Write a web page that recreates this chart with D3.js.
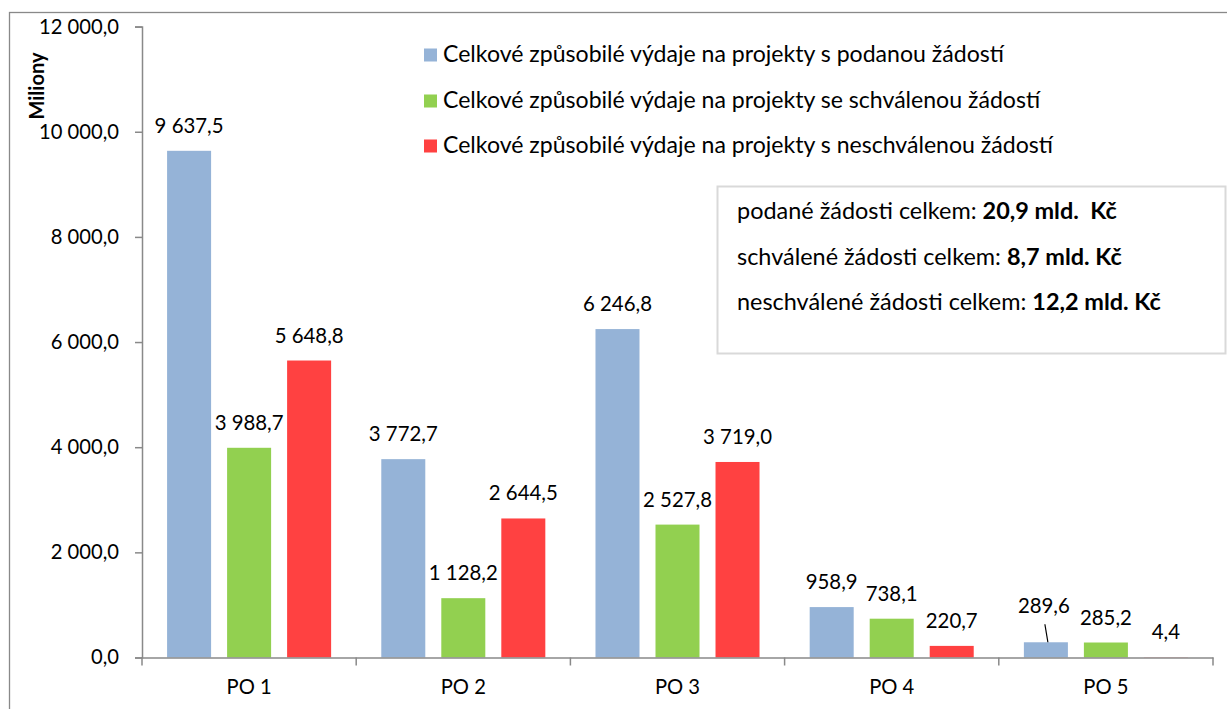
<!DOCTYPE html>
<html><head><meta charset="utf-8">
<script src="https://cdn.jsdelivr.net/npm/d3@7/dist/d3.min.js"></script>
<style>
html,body{margin:0;padding:0;background:#fff;}
svg{display:block;}
text{font-family:Lato,"Open Sans",sans-serif;fill:#000;}
</style></head>
<body>
<svg id="chart" width="1227" height="709"></svg>
<script>
// ---- data ----
const categories = ["PO 1", "PO 2", "PO 3", "PO 4", "PO 5"];
const seriesNames = [
  "Celkové způsobilé výdaje na projekty s podanou žádostí",
  "Celkové způsobilé výdaje na projekty se schválenou žádostí",
  "Celkové způsobilé výdaje na projekty s neschválenou žádostí"
];
const podane = [9637.5, 3772.7, 6246.8, 958.9, 289.6];
const schvalene = [3988.7, 1128.2, 2527.8, 738.1, 285.2];
const neschvalene = [5648.8, 2644.5, 3719.0, 220.7, 4.4];
const yTicks = [0, 2000, 4000, 6000, 8000, 10000, 12000];
const yAxisTitle = "Miliony";
const summaryLines = [
  ["podané žádosti celkem: ", "20,9 mld.\u00a0 Kč"],
  ["schválené žádosti celkem: ", "8,7 mld. Kč"],
  ["neschválené žádosti celkem: ", "12,2 mld. Kč"]
];
const colors = ["#95B3D7", "#92D050", "#FF4141"];

const seriesValues = [podane, schvalene, neschvalene];

// ---- layout ----
const svg = d3.select("#chart");
const plot = {left: 142, right: 1213, top: 26.6, bottom: 657.5};
const axisColor = "#898989";
const FONT = 'Lato,"Open Sans",sans-serif';

const locale = d3.formatLocale({decimal: ",", thousands: "\u00a0", grouping: [3], currency: ["", ""]});
const fmt = locale.format(",.1f");

// fit a font size so that a sample string has a target pixel width
function fitSize(str, target, weight) {
  const t = svg.append("text").style("font-family", FONT).style("font-size", "20px")
    .style("font-weight", weight || "normal").style("white-space", "pre").text(str);
  const w = t.node().getComputedTextLength();
  t.remove();
  return 20 * target / w;
}
const fsLegend = fitSize(seriesNames[0], 561);
const fsTick = fitSize(fmt(12000), 80);
const fsValue = fitSize(fmt(9637.5), 69);
const fsSummary = fitSize("schválené žádosti celkem: ", 270);
const fsCat = fsTick;

const y = d3.scaleLinear().domain([0, 12000]).range([plot.bottom, plot.top]);
const x = d3.scaleBand().domain(categories).range([plot.left, plot.right]).padding(0);
const xs = d3.scaleBand().domain(d3.range(3)).range([0, x.bandwidth()])
  .paddingInner(16/60).paddingOuter(0.418);

// outer frame
svg.append("rect").attr("x", 9.5).attr("y", 12.5).attr("width", 1400).attr("height", 900)
  .attr("fill", "none").attr("stroke", axisColor).attr("stroke-width", 1.3);

// bars
const rows = [];
categories.forEach((c, i) => seriesValues.forEach((s, j) => rows.push({c, i, j, v: s[i]})));

svg.append("g").selectAll("rect").data(rows).join("rect")
  .attr("x", d => x(d.c) + xs(d.j))
  .attr("width", xs.bandwidth())
  .attr("y", d => y(d.v))
  .attr("height", d => y(0) - y(d.v))
  .attr("fill", d => colors[d.j]);

// y axis
const yAxis = d3.axisLeft(y).tickValues(yTicks).tickFormat(fmt).tickSize(7).tickPadding(16);
const gy = svg.append("g").attr("transform", `translate(${plot.left},0)`).call(yAxis);
gy.select(".domain").attr("stroke", axisColor).attr("stroke-width", 1.5);
gy.selectAll(".tick line").attr("stroke", axisColor).attr("stroke-width", 1.5);
gy.selectAll(".tick text").style("font-family", FONT).style("font-size", fsTick + "px").attr("fill", "#000");

// x axis
const xAxis = d3.axisBottom(x).tickSize(0).tickPadding(22);
const gx = svg.append("g").attr("transform", `translate(0,${plot.bottom})`).call(xAxis);
gx.select(".domain").attr("stroke", axisColor).attr("stroke-width", 1.5);
gx.selectAll(".tick text").style("font-family", FONT).style("font-size", fsCat + "px").attr("fill", "#000");
// category boundary ticks
const bounds = categories.map(c => x(c)).concat([plot.right]);
gx.selectAll("line.bt").data(bounds).join("line").attr("class", "bt")
  .attr("x1", d => d).attr("x2", d => d).attr("y1", 0).attr("y2", 8)
  .attr("stroke", axisColor).attr("stroke-width", 1.5);

// y title
svg.append("text").attr("transform", "translate(44,86) rotate(-90)")
  .attr("text-anchor", "middle").style("font-weight", "bold").style("font-size", "20px")
  .text(yAxisTitle);

// value labels
const labelShift = d => (d.i === 4 && d.j === 0) ? 11 : 0;
svg.append("g").selectAll("text").data(rows).join("text")
  .attr("x", d => x(d.c) + xs(d.j) + xs.bandwidth() / 2 - (d.i === 4 && d.j === 0 ? 2 : 0))
  .attr("y", d => y(d.v) - 25 - labelShift(d) + 7)
  .attr("text-anchor", "middle").style("font-size", fsValue + "px")
  .text(d => fmt(d.v));

// leader line for PO 5 first series
{
  const d = rows.find(r => r.i === 4 && r.j === 0);
  const cx = x(d.c) + xs(d.j) + xs.bandwidth() / 2;
  svg.append("line").attr("x1", cx - 1).attr("y1", y(d.v) - 18).attr("x2", cx + 2).attr("y2", y(d.v))
    .attr("stroke", "#000").attr("stroke-width", 1.2);
}

// legend
const lg = svg.append("g");
seriesNames.forEach((n, j) => {
  const cy = [55, 101, 146][j];
  lg.append("rect").attr("x", 424).attr("y", cy - 6.5).attr("width", 13).attr("height", 13).attr("fill", colors[j]);
  lg.append("text").attr("x", 443).attr("y", cy + 7).style("font-size", fsLegend + "px").text(n);
});

// summary box
svg.append("rect").attr("x", 717.5).attr("y", 186.5).attr("width", 508).attr("height", 167)
  .attr("fill", "#fff").attr("stroke", "#d9d9d9").attr("stroke-width", 2);
summaryLines.forEach((l, k) => {
  const t = svg.append("text").attr("x", 737).attr("y", [212, 258, 303][k] + 7)
    .style("font-size", fsSummary + "px").style("white-space", "pre");
  t.append("tspan").text(l[0]);
  t.append("tspan").style("font-weight", "bold").text(l[1]);
});
</script>
</body></html>
